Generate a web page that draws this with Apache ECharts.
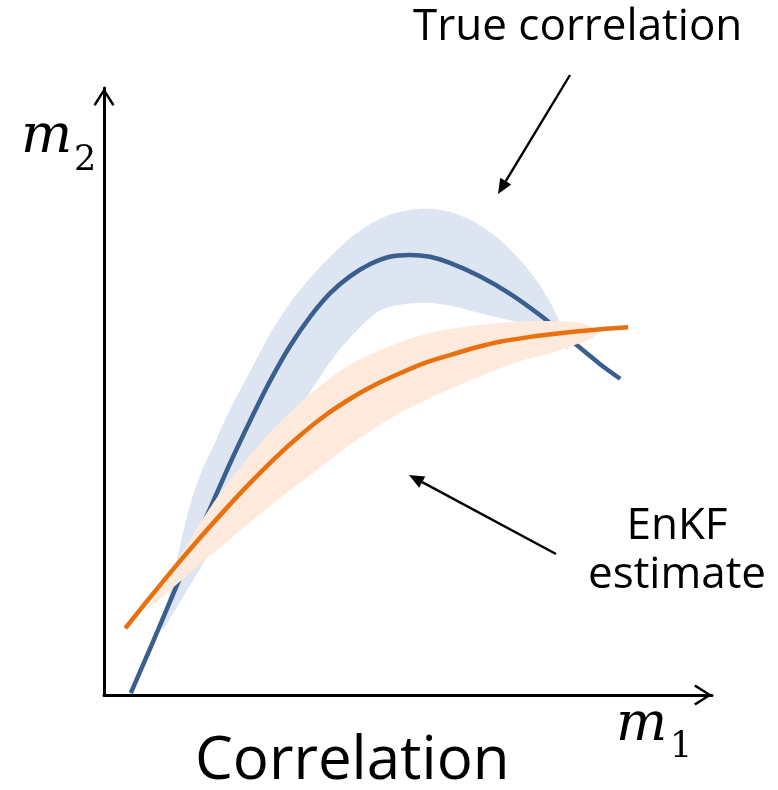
<!DOCTYPE html>
<html>
<head>
<meta charset="utf-8">
<script src="https://cdn.jsdelivr.net/npm/echarts@6/dist/echarts.min.js"></script>
<style>
  html, body { margin: 0; padding: 0; background: #ffffff; }
  #chart { width: 778px; height: 790px; }
</style>
</head>
<body>
<div id="chart"></div>
<script>
// Parameter space (m1, m2), arbitrary units
const m1Range = [0, 10];
const m2Range = [0, 10];

// True relation between m1 and m2
const trueCurve = [
  [0.44, 0.03], [0.76, 0.77], [1.09, 1.55], [1.41, 2.31], [1.74, 3.06],
  [2.07, 3.81], [2.40, 4.51], [2.73, 5.17], [3.06, 5.75], [3.39, 6.23],
  [3.72, 6.62], [4.05, 6.90], [4.38, 7.10], [4.70, 7.22], [5.03, 7.25],
  [5.36, 7.22], [5.69, 7.12], [6.18, 6.90], [6.68, 6.61], [7.17, 6.26],
  [7.66, 5.86], [8.16, 5.45], [8.49, 5.21]
];
// Spread around the true relation (upper and lower edges, left to right)
const trueBandUpper = [
  [0.95, 1.07], [1.05, 1.57], [1.17, 2.11], [1.30, 2.67], [1.45, 3.25],
  [1.63, 3.74], [1.83, 4.17], [2.07, 4.70], [2.40, 5.32], [2.73, 5.95],
  [3.06, 6.46], [3.39, 6.87], [3.72, 7.22], [4.05, 7.53], [4.38, 7.76],
  [4.70, 7.91], [5.03, 7.99], [5.36, 8.01], [5.69, 7.96], [6.10, 7.79],
  [6.51, 7.50], [6.84, 7.17], [7.14, 6.79], [7.37, 6.41], [7.53, 6.05],
  [7.63, 5.68]
];
const trueBandLower = [
  [1.17, 1.40], [1.41, 1.80], [1.66, 2.21], [1.99, 2.72], [2.40, 3.38],
  [2.81, 4.05], [3.22, 4.73], [3.55, 5.24], [3.88, 5.70], [4.21, 6.06],
  [4.54, 6.34], [4.87, 6.43], [5.20, 6.46], [5.53, 6.44], [5.86, 6.38],
  [6.18, 6.29], [6.51, 6.21], [6.84, 6.13], [7.17, 6.01], [7.42, 5.90]
];

// EnKF estimate of the relation
const enkfCurve = [
  [0.35, 1.10], [0.76, 1.61], [1.17, 2.11], [1.58, 2.59], [1.99, 3.05],
  [2.40, 3.49], [2.81, 3.90], [3.22, 4.27], [3.63, 4.60], [4.05, 4.88],
  [4.46, 5.11], [4.87, 5.30], [5.28, 5.47], [5.69, 5.60], [6.10, 5.72],
  [6.51, 5.82], [7.01, 5.90], [7.50, 5.96], [7.99, 6.01], [8.62, 6.06]
];
// Spread of the ensemble estimate
const enkfBandUpper = [
  [0.64, 1.37], [0.76, 1.50], [0.92, 1.76], [1.12, 2.06], [1.33, 2.42],
  [1.58, 2.83], [1.83, 3.21], [2.15, 3.64], [2.48, 4.04], [2.90, 4.50],
  [3.31, 4.89], [3.72, 5.22], [4.13, 5.49], [4.54, 5.68], [5.03, 5.87],
  [5.53, 6.00], [6.02, 6.08], [6.51, 6.13], [7.01, 6.16], [7.50, 6.16],
  [7.83, 6.13], [8.03, 6.06], [8.13, 5.96]
];
const enkfBandLower = [
  [0.84, 1.52], [1.17, 1.80], [1.58, 2.16], [1.99, 2.50], [2.40, 2.85],
  [2.90, 3.25], [3.39, 3.62], [3.88, 4.00], [4.38, 4.35], [4.87, 4.65],
  [5.36, 4.89], [5.86, 5.11], [6.35, 5.32], [6.84, 5.50], [7.34, 5.63],
  [7.75, 5.77], [7.99, 5.86]
];

const COLORS = {
  trueLine: '#3a5f8e',
  trueBand: '#dce5f1',
  enkfLine: '#e8700f',
  enkfBand: '#fdeadc'
};

// Closed outline: upper edge left to right, lower edge back
function bandSeries(name, upper, lower, fill, z) {
  const outline = upper.concat(lower.slice().reverse());
  return {
    name: name,
    type: 'custom',
    z: z,
    silent: true,
    data: [outline[0]],
    renderItem: function (params, api) {
      return {
        type: 'polygon',
        shape: { points: outline.map(function (p) { return api.coord(p); }), smooth: 0.25 },
        style: { fill: fill }
      };
    }
  };
}

function curveSeries(name, data, color, z) {
  return {
    name: name,
    type: 'line',
    z: z,
    data: data,
    smooth: 0.3,
    showSymbol: false,
    silent: true,
    lineStyle: { color: color, width: 4.5, cap: 'butt' }
  };
}

// Open chevron used at the end of each axis
const chevron = 'path://M10.5,0 L21,16.4 L18.9,18 L10.5,4.3 L2.1,18 L0,16.4 Z';

function axis(range) {
  return {
    type: 'value',
    min: range[0],
    max: range[1],
    axisLine: {
      show: true,
      onZero: false,
      lineStyle: { color: '#000000', width: 3 },
      symbol: ['none', chevron],
      symbolSize: [21, 18],
      symbolOffset: [0, -9]
    },
    axisTick: { show: false },
    axisLabel: { show: false },
    splitLine: { show: false }
  };
}

// Pointer with a solid head
function pointer(x1, y1, x2, y2) {
  const dx = x2 - x1, dy = y2 - y1;
  const len = Math.sqrt(dx * dx + dy * dy);
  const ux = dx / len, uy = dy / len;
  const hl = 15, hw = 6.5;
  const bx = x2 - ux * hl, by = y2 - uy * hl;
  return {
    type: 'group',
    children: [
      { type: 'line', shape: { x1: x1, y1: y1, x2: bx, y2: by },
        style: { stroke: '#000000', lineWidth: 2.4 } },
      { type: 'polygon',
        shape: { points: [[x2, y2], [bx - uy * hw, by + ux * hw], [bx + uy * hw, by - ux * hw]] },
        style: { fill: '#000000' } }
    ]
  };
}

const sans = '"Open Sans", "Noto Sans", sans-serif';
const serif = '"DejaVu Serif", "Liberation Serif", serif';

function label(text, x, y, size, opts) {
  opts = opts || {};
  return {
    type: 'text',
    x: x, y: y,
    style: {
      text: text,
      fill: '#000000',
      font: (opts.italic ? 'italic ' : '') + size + 'px ' + (opts.family || sans),
      textAlign: opts.align || 'left',
      textVerticalAlign: 'middle'
    }
  };
}

const chart = echarts.init(document.getElementById('chart'), null, { renderer: 'canvas' });
chart.setOption({
  backgroundColor: '#ffffff',
  animation: false,
  grid: { left: 104, right: 66, top: 88, bottom: 95 },
  xAxis: axis(m1Range),
  yAxis: axis(m2Range),
  series: [
    bandSeries('True spread', trueBandUpper, trueBandLower, COLORS.trueBand, 1),
    curveSeries('True correlation', trueCurve, COLORS.trueLine, 2),
    bandSeries('EnKF spread', enkfBandUpper, enkfBandLower, COLORS.enkfBand, 3),
    curveSeries('EnKF estimate', enkfCurve, COLORS.enkfLine, 4)
  ],
  graphic: [
    label('True correlation', 413, 27, 44),
    pointer(570, 75, 498, 194),
    label('EnKF', 677, 526, 44, { align: 'center' }),
    label('estimate', 677, 575, 44, { align: 'center' }),
    pointer(556, 554, 409, 475),
    label('Correlation', 195, 762, 60),
    label('m', 21, 138, 54, { italic: true, family: serif }),
    label('2', 74, 161, 35, { family: serif }),
    label('m', 616, 726, 54, { italic: true, family: serif }),
    label('1', 670, 748, 35, { family: serif })
  ]
});
</script>
</body>
</html>
